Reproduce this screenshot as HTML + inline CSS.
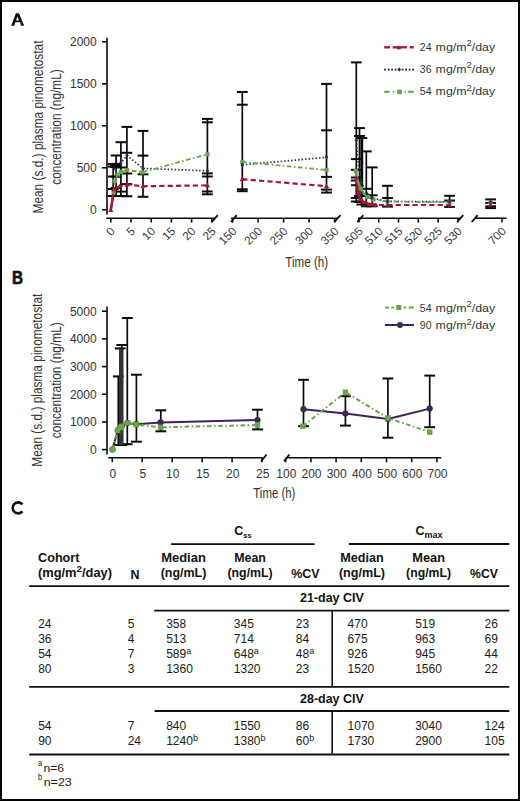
<!DOCTYPE html><html><head><meta charset="utf-8"><style>html,body{margin:0;padding:0;background:#fff;overflow:hidden}svg{display:block}text{font-family:"Liberation Sans",sans-serif}</style></head><body>
<svg width="520" height="801" viewBox="0 0 520 801">
<rect x="0" y="0" width="520" height="801" fill="#fff"/>
<path fill-rule="evenodd" fill="#111" d="M11.1,25.7 L15.9,13.25 L19.0,13.25 L24.2,25.7 L21.1,25.7 L20.1,22.2 L15.3,22.2 L14.2,25.7 Z M16.1,20.4 L18.9,20.4 L17.5,16.6 Z"/>
<text transform="translate(42.7,127) rotate(-90)" font-size="15.5" text-anchor="middle" fill="#333333" textLength="173" lengthAdjust="spacingAndGlyphs">Mean (s.d.) plasma pinometostat</text>
<text transform="translate(60.9,127) rotate(-90)" font-size="15.5" text-anchor="middle" fill="#333333" textLength="115.5" lengthAdjust="spacingAndGlyphs">concentration (ng/mL)</text>
<line x1="107" y1="37.8" x2="107" y2="214.5" stroke="#0a0a0a" stroke-width="1.6"/>
<line x1="102" y1="41.8" x2="107" y2="41.8" stroke="#0a0a0a" stroke-width="1.6"/>
<text x="96.7" y="46.099999999999994" font-size="12" text-anchor="end" font-weight="normal" fill="#333333" >2000</text>
<line x1="102" y1="83.8" x2="107" y2="83.8" stroke="#0a0a0a" stroke-width="1.6"/>
<text x="96.7" y="88.1" font-size="12" text-anchor="end" font-weight="normal" fill="#333333" >1500</text>
<line x1="102" y1="125.8" x2="107" y2="125.8" stroke="#0a0a0a" stroke-width="1.6"/>
<text x="96.7" y="130.1" font-size="12" text-anchor="end" font-weight="normal" fill="#333333" >1000</text>
<line x1="102" y1="167.8" x2="107" y2="167.8" stroke="#0a0a0a" stroke-width="1.6"/>
<text x="96.7" y="172.10000000000002" font-size="12" text-anchor="end" font-weight="normal" fill="#333333" >500</text>
<line x1="102" y1="209.8" x2="107" y2="209.8" stroke="#0a0a0a" stroke-width="1.6"/>
<text x="96.7" y="214.10000000000002" font-size="12" text-anchor="end" font-weight="normal" fill="#333333" >0</text>
<line x1="106.2" y1="218.2" x2="214.5" y2="218.2" stroke="#0a0a0a" stroke-width="1.6"/>
<line x1="110.8" y1="218.2" x2="110.8" y2="222.6" stroke="#0a0a0a" stroke-width="1.6"/>
<text transform="translate(115.6,231.8) rotate(-45)" font-size="11.7" text-anchor="end" fill="#333333">0</text>
<line x1="131.0" y1="218.2" x2="131.0" y2="222.6" stroke="#0a0a0a" stroke-width="1.6"/>
<text transform="translate(135.8,231.8) rotate(-45)" font-size="11.7" text-anchor="end" fill="#333333">5</text>
<line x1="151.2" y1="218.2" x2="151.2" y2="222.6" stroke="#0a0a0a" stroke-width="1.6"/>
<text transform="translate(156.0,231.8) rotate(-45)" font-size="11.7" text-anchor="end" fill="#333333">10</text>
<line x1="171.4" y1="218.2" x2="171.4" y2="222.6" stroke="#0a0a0a" stroke-width="1.6"/>
<text transform="translate(176.2,231.8) rotate(-45)" font-size="11.7" text-anchor="end" fill="#333333">15</text>
<line x1="191.6" y1="218.2" x2="191.6" y2="222.6" stroke="#0a0a0a" stroke-width="1.6"/>
<text transform="translate(196.4,231.8) rotate(-45)" font-size="11.7" text-anchor="end" fill="#333333">20</text>
<line x1="211.8" y1="218.2" x2="211.8" y2="222.6" stroke="#0a0a0a" stroke-width="1.6"/>
<text transform="translate(216.6,231.8) rotate(-45)" font-size="11.7" text-anchor="end" fill="#333333">25</text>
<line x1="211.8" y1="222" x2="217.8" y2="215.2" stroke="#0a0a0a" stroke-width="1.8"/>
<line x1="231" y1="218.2" x2="338" y2="218.2" stroke="#0a0a0a" stroke-width="1.6"/>
<line x1="232.6" y1="218.2" x2="232.6" y2="222.6" stroke="#0a0a0a" stroke-width="1.6"/>
<text transform="translate(237.4,231.8) rotate(-45)" font-size="11.7" text-anchor="end" fill="#333333">150</text>
<line x1="258.1" y1="218.2" x2="258.1" y2="222.6" stroke="#0a0a0a" stroke-width="1.6"/>
<text transform="translate(262.9,231.8) rotate(-45)" font-size="11.7" text-anchor="end" fill="#333333">200</text>
<line x1="283.6" y1="218.2" x2="283.6" y2="222.6" stroke="#0a0a0a" stroke-width="1.6"/>
<text transform="translate(288.4,231.8) rotate(-45)" font-size="11.7" text-anchor="end" fill="#333333">250</text>
<line x1="309.1" y1="218.2" x2="309.1" y2="222.6" stroke="#0a0a0a" stroke-width="1.6"/>
<text transform="translate(313.9,231.8) rotate(-45)" font-size="11.7" text-anchor="end" fill="#333333">300</text>
<line x1="334.6" y1="218.2" x2="334.6" y2="222.6" stroke="#0a0a0a" stroke-width="1.6"/>
<text transform="translate(339.4,231.8) rotate(-45)" font-size="11.7" text-anchor="end" fill="#333333">350</text>
<line x1="230.8" y1="222" x2="236.8" y2="215.2" stroke="#0a0a0a" stroke-width="1.8"/>
<line x1="334.4" y1="222" x2="340.4" y2="215.2" stroke="#0a0a0a" stroke-width="1.8"/>
<line x1="358" y1="218.2" x2="460" y2="218.2" stroke="#0a0a0a" stroke-width="1.6"/>
<line x1="358.9" y1="218.2" x2="358.9" y2="222.6" stroke="#0a0a0a" stroke-width="1.6"/>
<text transform="translate(363.7,231.8) rotate(-45)" font-size="11.7" text-anchor="end" fill="#333333">505</text>
<line x1="378.7" y1="218.2" x2="378.7" y2="222.6" stroke="#0a0a0a" stroke-width="1.6"/>
<text transform="translate(383.5,231.8) rotate(-45)" font-size="11.7" text-anchor="end" fill="#333333">510</text>
<line x1="398.5" y1="218.2" x2="398.5" y2="222.6" stroke="#0a0a0a" stroke-width="1.6"/>
<text transform="translate(403.3,231.8) rotate(-45)" font-size="11.7" text-anchor="end" fill="#333333">515</text>
<line x1="418.3" y1="218.2" x2="418.3" y2="222.6" stroke="#0a0a0a" stroke-width="1.6"/>
<text transform="translate(423.1,231.8) rotate(-45)" font-size="11.7" text-anchor="end" fill="#333333">520</text>
<line x1="438.1" y1="218.2" x2="438.1" y2="222.6" stroke="#0a0a0a" stroke-width="1.6"/>
<text transform="translate(442.9,231.8) rotate(-45)" font-size="11.7" text-anchor="end" fill="#333333">525</text>
<line x1="457.9" y1="218.2" x2="457.9" y2="222.6" stroke="#0a0a0a" stroke-width="1.6"/>
<text transform="translate(462.7,231.8) rotate(-45)" font-size="11.7" text-anchor="end" fill="#333333">530</text>
<line x1="357.3" y1="222" x2="363.3" y2="215.2" stroke="#0a0a0a" stroke-width="1.8"/>
<line x1="457.2" y1="222" x2="463.2" y2="215.2" stroke="#0a0a0a" stroke-width="1.8"/>
<line x1="475" y1="218.2" x2="506.5" y2="218.2" stroke="#0a0a0a" stroke-width="1.6"/>
<line x1="502.0" y1="218.2" x2="502.0" y2="222.6" stroke="#0a0a0a" stroke-width="1.6"/>
<text transform="translate(506.8,231.8) rotate(-45)" font-size="11.7" text-anchor="end" fill="#333333">700</text>
<line x1="471.7" y1="222" x2="477.7" y2="215.2" stroke="#0a0a0a" stroke-width="1.8"/>
<text x="285.3" y="266.9" font-size="14.5" text-anchor="start" font-weight="normal" fill="#333333" textLength="42.8" lengthAdjust="spacingAndGlyphs" >Time (h)</text>
<rect x="384.2" y="46.15" width="5.80" height="2.3" fill="#a3183a"/>
<rect x="392.7" y="46.15" width="14.20" height="2.3" fill="#a3183a"/>
<rect x="409.6" y="46.15" width="4.20" height="2.3" fill="#a3183a"/>
<path d="M398.9,45.3L401.2,49.3L396.6,49.3Z" fill="#a3183a"/>
<text x="419.8" y="50.7" font-size="11.4" fill="#333333" textLength="11.7" lengthAdjust="spacingAndGlyphs">24</text>
<text x="435.6" y="50.7" font-size="11.4" fill="#333333" textLength="59.6" lengthAdjust="spacingAndGlyphs">mg/m<tspan font-size="8.6" dy="-4.6">2</tspan><tspan dy="4.6">/day</tspan></text>
<rect x="384.2" y="68.65" width="1.80" height="1.9" fill="#22305e"/>
<rect x="387.7" y="68.65" width="1.80" height="1.9" fill="#22305e"/>
<rect x="391.2" y="68.65" width="1.80" height="1.9" fill="#22305e"/>
<rect x="394.7" y="68.65" width="1.80" height="1.9" fill="#22305e"/>
<rect x="398.2" y="68.65" width="1.80" height="1.9" fill="#22305e"/>
<rect x="401.7" y="68.65" width="1.80" height="1.9" fill="#22305e"/>
<rect x="405.2" y="68.65" width="1.80" height="1.9" fill="#22305e"/>
<rect x="408.7" y="68.65" width="1.80" height="1.9" fill="#22305e"/>
<rect x="412.2" y="68.65" width="1.80" height="1.9" fill="#22305e"/>
<path d="M399.2,67.2L401.0,69.5L399.2,71.8L397.4,69.5Z" fill="#22305e"/>
<text x="419.8" y="72.8" font-size="11.4" fill="#333333" textLength="11.7" lengthAdjust="spacingAndGlyphs">36</text>
<text x="435.6" y="72.8" font-size="11.4" fill="#333333" textLength="59.6" lengthAdjust="spacingAndGlyphs">mg/m<tspan font-size="8.6" dy="-4.6">2</tspan><tspan dy="4.6">/day</tspan></text>
<rect x="384.2" y="90.75" width="5.40" height="2.1" fill="#68a545"/>
<rect x="393" y="90.75" width="1.30" height="2.1" fill="#68a545"/>
<rect x="404.5" y="90.75" width="1.30" height="2.1" fill="#68a545"/>
<rect x="408.2" y="90.75" width="5.60" height="2.1" fill="#68a545"/>
<rect x="397.3" y="89.6" width="4.6" height="4.6" fill="#68a545"/>
<text x="419.8" y="95.1" font-size="11.4" fill="#333333" textLength="11.7" lengthAdjust="spacingAndGlyphs">54</text>
<text x="435.6" y="95.1" font-size="11.4" fill="#333333" textLength="59.6" lengthAdjust="spacingAndGlyphs">mg/m<tspan font-size="8.6" dy="-4.6">2</tspan><tspan dy="4.6">/day</tspan></text>
<line x1="113.2" y1="163.9" x2="113.2" y2="196.0" stroke="#0a0a0a" stroke-width="1.7"/>
<line x1="107.8" y1="163.9" x2="118.6" y2="163.9" stroke="#0a0a0a" stroke-width="2.0"/>
<line x1="107.8" y1="166.6" x2="118.6" y2="166.6" stroke="#0a0a0a" stroke-width="2.0"/>
<line x1="107.8" y1="176.5" x2="118.6" y2="176.5" stroke="#0a0a0a" stroke-width="2.0"/>
<line x1="107.8" y1="189.0" x2="118.6" y2="189.0" stroke="#0a0a0a" stroke-width="2.0"/>
<line x1="107.8" y1="196.0" x2="118.6" y2="196.0" stroke="#0a0a0a" stroke-width="2.0"/>
<line x1="115.3" y1="164.2" x2="115.3" y2="166.9" stroke="#0a0a0a" stroke-width="1.7"/>
<line x1="109.9" y1="164.2" x2="120.7" y2="164.2" stroke="#0a0a0a" stroke-width="2.0"/>
<line x1="109.9" y1="166.9" x2="120.7" y2="166.9" stroke="#0a0a0a" stroke-width="2.0"/>
<line x1="116.1" y1="155.5" x2="116.1" y2="196.0" stroke="#0a0a0a" stroke-width="1.7"/>
<line x1="110.7" y1="155.5" x2="121.5" y2="155.5" stroke="#0a0a0a" stroke-width="2.0"/>
<line x1="110.7" y1="165.0" x2="121.5" y2="165.0" stroke="#0a0a0a" stroke-width="2.0"/>
<line x1="110.7" y1="176.7" x2="121.5" y2="176.7" stroke="#0a0a0a" stroke-width="2.0"/>
<line x1="110.7" y1="188.0" x2="121.5" y2="188.0" stroke="#0a0a0a" stroke-width="2.0"/>
<line x1="110.7" y1="196.0" x2="121.5" y2="196.0" stroke="#0a0a0a" stroke-width="2.0"/>
<line x1="120.9" y1="142.2" x2="120.9" y2="196.0" stroke="#0a0a0a" stroke-width="1.7"/>
<line x1="115.5" y1="142.2" x2="126.3" y2="142.2" stroke="#0a0a0a" stroke-width="2.0"/>
<line x1="115.5" y1="167.5" x2="126.3" y2="167.5" stroke="#0a0a0a" stroke-width="2.0"/>
<line x1="115.5" y1="191.6" x2="126.3" y2="191.6" stroke="#0a0a0a" stroke-width="2.0"/>
<line x1="115.5" y1="196.0" x2="126.3" y2="196.0" stroke="#0a0a0a" stroke-width="2.0"/>
<line x1="126.9" y1="126.9" x2="126.9" y2="196.3" stroke="#0a0a0a" stroke-width="1.7"/>
<line x1="121.5" y1="126.9" x2="132.3" y2="126.9" stroke="#0a0a0a" stroke-width="2.0"/>
<line x1="121.5" y1="152.8" x2="132.3" y2="152.8" stroke="#0a0a0a" stroke-width="2.0"/>
<line x1="121.5" y1="173.5" x2="132.3" y2="173.5" stroke="#0a0a0a" stroke-width="2.0"/>
<line x1="121.5" y1="184.1" x2="132.3" y2="184.1" stroke="#0a0a0a" stroke-width="2.0"/>
<line x1="121.5" y1="196.3" x2="132.3" y2="196.3" stroke="#0a0a0a" stroke-width="2.0"/>
<line x1="143.0" y1="130.9" x2="143.0" y2="196.8" stroke="#0a0a0a" stroke-width="1.7"/>
<line x1="137.6" y1="130.9" x2="148.4" y2="130.9" stroke="#0a0a0a" stroke-width="2.0"/>
<line x1="137.6" y1="155.6" x2="148.4" y2="155.6" stroke="#0a0a0a" stroke-width="2.0"/>
<line x1="137.6" y1="174.3" x2="148.4" y2="174.3" stroke="#0a0a0a" stroke-width="2.0"/>
<line x1="137.6" y1="196.8" x2="148.4" y2="196.8" stroke="#0a0a0a" stroke-width="2.0"/>
<line x1="207.4" y1="118.9" x2="207.4" y2="194.3" stroke="#0a0a0a" stroke-width="1.7"/>
<line x1="202.0" y1="118.9" x2="212.8" y2="118.9" stroke="#0a0a0a" stroke-width="2.0"/>
<line x1="202.0" y1="122.3" x2="212.8" y2="122.3" stroke="#0a0a0a" stroke-width="2.0"/>
<line x1="202.0" y1="173.4" x2="212.8" y2="173.4" stroke="#0a0a0a" stroke-width="2.0"/>
<line x1="202.0" y1="176.5" x2="212.8" y2="176.5" stroke="#0a0a0a" stroke-width="2.0"/>
<line x1="202.0" y1="191.5" x2="212.8" y2="191.5" stroke="#0a0a0a" stroke-width="2.0"/>
<line x1="202.0" y1="194.3" x2="212.8" y2="194.3" stroke="#0a0a0a" stroke-width="2.0"/>
<line x1="242.3" y1="92.0" x2="242.3" y2="191.2" stroke="#0a0a0a" stroke-width="1.7"/>
<line x1="236.9" y1="92.0" x2="247.7" y2="92.0" stroke="#0a0a0a" stroke-width="2.0"/>
<line x1="236.9" y1="104.7" x2="247.7" y2="104.7" stroke="#0a0a0a" stroke-width="2.0"/>
<line x1="236.9" y1="189.3" x2="247.7" y2="189.3" stroke="#0a0a0a" stroke-width="2.0"/>
<line x1="236.9" y1="191.2" x2="247.7" y2="191.2" stroke="#0a0a0a" stroke-width="2.0"/>
<line x1="326.5" y1="83.9" x2="326.5" y2="192.6" stroke="#0a0a0a" stroke-width="1.7"/>
<line x1="321.1" y1="83.9" x2="331.9" y2="83.9" stroke="#0a0a0a" stroke-width="2.0"/>
<line x1="321.1" y1="130.3" x2="331.9" y2="130.3" stroke="#0a0a0a" stroke-width="2.0"/>
<line x1="321.1" y1="176.9" x2="331.9" y2="176.9" stroke="#0a0a0a" stroke-width="2.0"/>
<line x1="321.1" y1="189.6" x2="331.9" y2="189.6" stroke="#0a0a0a" stroke-width="2.0"/>
<line x1="321.1" y1="192.6" x2="331.9" y2="192.6" stroke="#0a0a0a" stroke-width="2.0"/>
<line x1="356.3" y1="62.4" x2="356.3" y2="201.5" stroke="#0a0a0a" stroke-width="1.7"/>
<line x1="350.9" y1="62.4" x2="361.7" y2="62.4" stroke="#0a0a0a" stroke-width="2.0"/>
<line x1="350.9" y1="159.1" x2="361.7" y2="159.1" stroke="#0a0a0a" stroke-width="2.0"/>
<line x1="350.9" y1="169.8" x2="361.7" y2="169.8" stroke="#0a0a0a" stroke-width="2.0"/>
<line x1="350.9" y1="177.5" x2="361.7" y2="177.5" stroke="#0a0a0a" stroke-width="2.0"/>
<line x1="350.9" y1="180.5" x2="361.7" y2="180.5" stroke="#0a0a0a" stroke-width="2.0"/>
<line x1="350.9" y1="185.2" x2="361.7" y2="185.2" stroke="#0a0a0a" stroke-width="2.0"/>
<line x1="350.9" y1="198.0" x2="361.7" y2="198.0" stroke="#0a0a0a" stroke-width="2.0"/>
<line x1="350.9" y1="201.5" x2="361.7" y2="201.5" stroke="#0a0a0a" stroke-width="2.0"/>
<line x1="359.5" y1="128.1" x2="359.5" y2="202.0" stroke="#0a0a0a" stroke-width="1.7"/>
<line x1="354.1" y1="128.1" x2="364.9" y2="128.1" stroke="#0a0a0a" stroke-width="2.0"/>
<line x1="354.1" y1="136.0" x2="364.9" y2="136.0" stroke="#0a0a0a" stroke-width="2.0"/>
<line x1="354.1" y1="196.0" x2="364.9" y2="196.0" stroke="#0a0a0a" stroke-width="2.0"/>
<line x1="354.1" y1="202.0" x2="364.9" y2="202.0" stroke="#0a0a0a" stroke-width="2.0"/>
<line x1="361.8" y1="138.0" x2="361.8" y2="204.5" stroke="#0a0a0a" stroke-width="1.7"/>
<line x1="356.4" y1="138.0" x2="367.2" y2="138.0" stroke="#0a0a0a" stroke-width="2.0"/>
<line x1="356.4" y1="196.0" x2="367.2" y2="196.0" stroke="#0a0a0a" stroke-width="2.0"/>
<line x1="356.4" y1="204.5" x2="367.2" y2="204.5" stroke="#0a0a0a" stroke-width="2.0"/>
<line x1="366.3" y1="151.4" x2="366.3" y2="206.3" stroke="#0a0a0a" stroke-width="1.7"/>
<line x1="360.9" y1="151.4" x2="371.7" y2="151.4" stroke="#0a0a0a" stroke-width="2.0"/>
<line x1="360.9" y1="188.8" x2="371.7" y2="188.8" stroke="#0a0a0a" stroke-width="2.0"/>
<line x1="360.9" y1="206.3" x2="371.7" y2="206.3" stroke="#0a0a0a" stroke-width="2.0"/>
<line x1="372.2" y1="167.4" x2="372.2" y2="206.3" stroke="#0a0a0a" stroke-width="1.7"/>
<line x1="366.8" y1="167.4" x2="377.6" y2="167.4" stroke="#0a0a0a" stroke-width="2.0"/>
<line x1="366.8" y1="195.3" x2="377.6" y2="195.3" stroke="#0a0a0a" stroke-width="2.0"/>
<line x1="366.8" y1="206.3" x2="377.6" y2="206.3" stroke="#0a0a0a" stroke-width="2.0"/>
<line x1="387.5" y1="185.8" x2="387.5" y2="206.6" stroke="#0a0a0a" stroke-width="1.7"/>
<line x1="382.1" y1="185.8" x2="392.9" y2="185.8" stroke="#0a0a0a" stroke-width="2.0"/>
<line x1="382.1" y1="198.0" x2="392.9" y2="198.0" stroke="#0a0a0a" stroke-width="2.0"/>
<line x1="382.1" y1="206.6" x2="392.9" y2="206.6" stroke="#0a0a0a" stroke-width="2.0"/>
<line x1="449.6" y1="195.8" x2="449.6" y2="206.9" stroke="#0a0a0a" stroke-width="1.7"/>
<line x1="444.2" y1="195.8" x2="455.0" y2="195.8" stroke="#0a0a0a" stroke-width="2.0"/>
<line x1="444.2" y1="200.5" x2="455.0" y2="200.5" stroke="#0a0a0a" stroke-width="2.0"/>
<line x1="444.2" y1="206.9" x2="455.0" y2="206.9" stroke="#0a0a0a" stroke-width="2.0"/>
<line x1="490.6" y1="199.4" x2="490.6" y2="208.1" stroke="#0a0a0a" stroke-width="1.7"/>
<line x1="485.2" y1="199.4" x2="496.0" y2="199.4" stroke="#0a0a0a" stroke-width="2.0"/>
<line x1="485.2" y1="202.9" x2="496.0" y2="202.9" stroke="#0a0a0a" stroke-width="2.0"/>
<line x1="485.2" y1="206.3" x2="496.0" y2="206.3" stroke="#0a0a0a" stroke-width="2.0"/>
<line x1="485.2" y1="208.1" x2="496.0" y2="208.1" stroke="#0a0a0a" stroke-width="2.0"/>
<line x1="361.8" y1="138" x2="361.8" y2="196" stroke="#0a0a0a" stroke-width="2.8"/>
<polyline points="114.5,168.0 117.2,165.6 120.9,162.9 126.9,155.5 143.0,168.4 207.4,170.8" fill="none" stroke="#22305e" stroke-width="1.7" stroke-dasharray="1.5 2.0" stroke-linecap="butt" stroke-linejoin="round"/>
<polyline points="242.3,164.9 326.5,157.3" fill="none" stroke="#22305e" stroke-width="1.7" stroke-dasharray="1.5 2.0" stroke-linecap="butt" stroke-linejoin="round"/>
<polyline points="356.3,140.2 358.0,162.0 361.5,182.0 364.5,189.0 367.0,193.6 372.0,198.0 387.5,201.4 449.6,201.8" fill="none" stroke="#22305e" stroke-width="1.7" stroke-dasharray="1.5 2.0" stroke-linecap="butt" stroke-linejoin="round"/>
<polyline points="490.6,202.0" fill="none" stroke="#22305e" stroke-width="1.7" stroke-dasharray="1.5 2.0" stroke-linecap="butt" stroke-linejoin="round"/>
<polyline points="113.5,192.0 115.0,181.0 117.7,174.6 120.9,171.9 126.9,170.0 142.3,172.3 207.4,154.3" fill="none" stroke="#68a545" stroke-width="1.8" stroke-dasharray="4.5 2.6 1.5 2.6" stroke-linecap="butt" stroke-linejoin="round"/>
<polyline points="242.3,161.9 326.5,170.0" fill="none" stroke="#68a545" stroke-width="1.8" stroke-dasharray="4.5 2.6 1.5 2.6" stroke-linecap="butt" stroke-linejoin="round"/>
<polyline points="355.7,171.0 357.5,180.0 360.7,188.5 363.5,193.0 367.5,197.0 373.4,199.5 387.5,201.5 449.6,202.3" fill="none" stroke="#68a545" stroke-width="1.8" stroke-dasharray="4.5 2.6 1.5 2.6" stroke-linecap="butt" stroke-linejoin="round"/>
<polyline points="490.6,202.0" fill="none" stroke="#68a545" stroke-width="1.8" stroke-dasharray="4.5 2.6 1.5 2.6" stroke-linecap="butt" stroke-linejoin="round"/>
<polyline points="110.8,210.0 114.0,189.4 119.8,186.3 126.9,184.5 143.0,186.2 207.4,185.4" fill="none" stroke="#a3183a" stroke-width="2.2" stroke-dasharray="5.2 3.2" stroke-linecap="butt" stroke-linejoin="round"/>
<polyline points="242.3,179.2 326.5,186.2" fill="none" stroke="#a3183a" stroke-width="2.2" stroke-dasharray="5.2 3.2" stroke-linecap="butt" stroke-linejoin="round"/>
<polyline points="356.5,178.0 357.5,186.0 358.3,193.0 360.0,199.5 363.3,202.0 369.2,204.2 376.0,205.0 387.5,205.0 449.6,205.0" fill="none" stroke="#a3183a" stroke-width="2.2" stroke-dasharray="5.2 3.2" stroke-linecap="butt" stroke-linejoin="round"/>
<polyline points="490.6,204.6" fill="none" stroke="#a3183a" stroke-width="2.2" stroke-dasharray="5.2 3.2" stroke-linecap="butt" stroke-linejoin="round"/>
<polyline points="356.5,178.0 357.5,186.0 358.3,193.0 360.0,199.5 363.3,202.0 369.2,204.2 376.0,205.0" fill="none" stroke="#a3183a" stroke-width="2.8" stroke-linecap="butt" stroke-linejoin="round"/>
<polyline points="355.7,171.0 357.5,180.0 360.7,188.5 363.5,193.0 367.5,197.0 373.4,199.5" fill="none" stroke="#68a545" stroke-width="2.2" stroke-linecap="butt" stroke-linejoin="round"/>
<polyline points="110.8,210.0 114.0,189.4 119.8,186.3" fill="none" stroke="#a3183a" stroke-width="2.4" stroke-linecap="butt" stroke-linejoin="round"/>
<rect x="111.4" y="189.9" width="4.2" height="4.2" fill="#68a545"/>
<rect x="112.9" y="178.9" width="4.2" height="4.2" fill="#68a545"/>
<rect x="115.6" y="172.5" width="4.2" height="4.2" fill="#68a545"/>
<rect x="118.8" y="169.8" width="4.2" height="4.2" fill="#68a545"/>
<rect x="124.8" y="167.9" width="4.2" height="4.2" fill="#68a545"/>
<rect x="140.2" y="170.2" width="4.2" height="4.2" fill="#68a545"/>
<rect x="205.3" y="152.2" width="4.2" height="4.2" fill="#68a545"/>
<rect x="240.2" y="159.8" width="4.2" height="4.2" fill="#68a545"/>
<rect x="324.4" y="167.9" width="4.2" height="4.2" fill="#68a545"/>
<rect x="353.7" y="169.0" width="4.0" height="4.0" fill="#68a545"/>
<rect x="358.7" y="186.5" width="4.0" height="4.0" fill="#68a545"/>
<rect x="365.5" y="195.0" width="4.0" height="4.0" fill="#68a545"/>
<rect x="371.4" y="197.5" width="4.0" height="4.0" fill="#68a545"/>
<rect x="385.5" y="199.5" width="4.0" height="4.0" fill="#68a545"/>
<rect x="447.6" y="200.3" width="4.0" height="4.0" fill="#68a545"/>
<rect x="488.5" y="199.9" width="4.2" height="4.2" fill="#68a545"/>
<path d="M114.5,165.7L116.3,168.0L114.5,170.3L112.7,168.0Z" fill="#22305e"/>
<path d="M117.2,163.3L119.0,165.6L117.2,167.9L115.4,165.6Z" fill="#22305e"/>
<path d="M120.9,160.6L122.7,162.9L120.9,165.2L119.1,162.9Z" fill="#22305e"/>
<path d="M126.9,153.2L128.7,155.5L126.9,157.8L125.1,155.5Z" fill="#22305e"/>
<path d="M143.0,166.1L144.8,168.4L143.0,170.7L141.2,168.4Z" fill="#22305e"/>
<path d="M207.4,168.5L209.2,170.8L207.4,173.1L205.6,170.8Z" fill="#22305e"/>
<path d="M242.3,162.6L244.1,164.9L242.3,167.2L240.5,164.9Z" fill="#22305e"/>
<path d="M326.5,155.0L328.3,157.3L326.5,159.6L324.7,157.3Z" fill="#22305e"/>
<path d="M356.3,138.0L358.1,140.2L356.3,142.4L354.5,140.2Z" fill="#22305e"/>
<path d="M361.5,179.8L363.3,182.0L361.5,184.2L359.7,182.0Z" fill="#22305e"/>
<path d="M367.0,191.4L368.8,193.6L367.0,195.8L365.2,193.6Z" fill="#22305e"/>
<path d="M372.0,195.8L373.8,198.0L372.0,200.2L370.2,198.0Z" fill="#22305e"/>
<path d="M387.5,199.2L389.3,201.4L387.5,203.6L385.7,201.4Z" fill="#22305e"/>
<path d="M449.6,199.6L451.4,201.8L449.6,204.0L447.8,201.8Z" fill="#22305e"/>
<path d="M490.6,199.7L492.4,202.0L490.6,204.3L488.8,202.0Z" fill="#22305e"/>
<path d="M110.8,207.4L113.4,211.9L108.2,211.9Z" fill="#a3183a"/>
<path d="M114.0,186.8L116.6,191.3L111.4,191.3Z" fill="#a3183a"/>
<path d="M119.8,183.7L122.4,188.2L117.2,188.2Z" fill="#a3183a"/>
<path d="M126.9,181.9L129.5,186.4L124.3,186.4Z" fill="#a3183a"/>
<path d="M143.0,183.6L145.6,188.1L140.4,188.1Z" fill="#a3183a"/>
<path d="M207.4,182.8L210.0,187.3L204.8,187.3Z" fill="#a3183a"/>
<path d="M242.3,176.6L244.9,181.1L239.7,181.1Z" fill="#a3183a"/>
<path d="M326.5,183.6L329.1,188.1L323.9,188.1Z" fill="#a3183a"/>
<path d="M356.5,175.6L358.9,179.8L354.1,179.8Z" fill="#a3183a"/>
<path d="M358.3,190.6L360.7,194.8L355.9,194.8Z" fill="#a3183a"/>
<path d="M363.3,199.6L365.7,203.8L360.9,203.8Z" fill="#a3183a"/>
<path d="M369.2,201.8L371.6,206.0L366.8,206.0Z" fill="#a3183a"/>
<path d="M376.0,202.6L378.4,206.8L373.6,206.8Z" fill="#a3183a"/>
<path d="M387.5,202.6L389.9,206.8L385.1,206.8Z" fill="#a3183a"/>
<path d="M449.6,202.6L452.0,206.8L447.2,206.8Z" fill="#a3183a"/>
<path d="M490.6,202.0L493.2,206.5L488.0,206.5Z" fill="#a3183a"/>
<rect x="110.3" y="163.2" width="9.6" height="4.6" fill="#0a0a0a"/>
<text x="11.9" y="284.4" font-size="17.5" text-anchor="start" font-weight="bold" fill="#111" textLength="11" lengthAdjust="spacingAndGlyphs" stroke="#111" stroke-width="0.7">B</text>
<text transform="translate(42.4,380.2) rotate(-90)" font-size="15.5" text-anchor="middle" fill="#333333" textLength="173" lengthAdjust="spacingAndGlyphs">Mean (s.d.) plasma pinometostat</text>
<text transform="translate(60.6,380.2) rotate(-90)" font-size="15.5" text-anchor="middle" fill="#333333" textLength="116" lengthAdjust="spacingAndGlyphs">concentration (ng/mL)</text>
<line x1="107" y1="306.4" x2="107" y2="454.4" stroke="#0a0a0a" stroke-width="1.6"/>
<line x1="102" y1="311.2" x2="107" y2="311.2" stroke="#0a0a0a" stroke-width="1.6"/>
<text x="96.6" y="315.5" font-size="12" text-anchor="end" font-weight="normal" fill="#333333" >5000</text>
<line x1="102" y1="338.9" x2="107" y2="338.9" stroke="#0a0a0a" stroke-width="1.6"/>
<text x="96.6" y="343.2" font-size="12" text-anchor="end" font-weight="normal" fill="#333333" >4000</text>
<line x1="102" y1="366.6" x2="107" y2="366.6" stroke="#0a0a0a" stroke-width="1.6"/>
<text x="96.6" y="370.9" font-size="12" text-anchor="end" font-weight="normal" fill="#333333" >3000</text>
<line x1="102" y1="394.2" x2="107" y2="394.2" stroke="#0a0a0a" stroke-width="1.6"/>
<text x="96.6" y="398.5" font-size="12" text-anchor="end" font-weight="normal" fill="#333333" >2000</text>
<line x1="102" y1="421.9" x2="107" y2="421.9" stroke="#0a0a0a" stroke-width="1.6"/>
<text x="96.6" y="426.2" font-size="12" text-anchor="end" font-weight="normal" fill="#333333" >1000</text>
<line x1="102" y1="449.6" x2="107" y2="449.6" stroke="#0a0a0a" stroke-width="1.6"/>
<text x="96.6" y="453.9" font-size="12" text-anchor="end" font-weight="normal" fill="#333333" >0</text>
<line x1="108.3" y1="457.8" x2="262.5" y2="457.8" stroke="#0a0a0a" stroke-width="1.6"/>
<line x1="112.3" y1="457.8" x2="112.3" y2="462.2" stroke="#0a0a0a" stroke-width="1.6"/>
<text x="112.9" y="477.8" font-size="12" text-anchor="middle" font-weight="normal" fill="#333333" >0</text>
<line x1="142.2" y1="457.8" x2="142.2" y2="462.2" stroke="#0a0a0a" stroke-width="1.6"/>
<text x="142.8" y="477.8" font-size="12" text-anchor="middle" font-weight="normal" fill="#333333" >5</text>
<line x1="172.2" y1="457.8" x2="172.2" y2="462.2" stroke="#0a0a0a" stroke-width="1.6"/>
<text x="172.8" y="477.8" font-size="12" text-anchor="middle" font-weight="normal" fill="#333333" >10</text>
<line x1="202.2" y1="457.8" x2="202.2" y2="462.2" stroke="#0a0a0a" stroke-width="1.6"/>
<text x="202.8" y="477.8" font-size="12" text-anchor="middle" font-weight="normal" fill="#333333" >15</text>
<line x1="232.1" y1="457.8" x2="232.1" y2="462.2" stroke="#0a0a0a" stroke-width="1.6"/>
<text x="232.7" y="477.8" font-size="12" text-anchor="middle" font-weight="normal" fill="#333333" >20</text>
<line x1="262.1" y1="457.8" x2="262.1" y2="462.2" stroke="#0a0a0a" stroke-width="1.6"/>
<text x="262.7" y="477.8" font-size="12" text-anchor="middle" font-weight="normal" fill="#333333" >25</text>
<line x1="261.2" y1="461.3" x2="266.6" y2="454.5" stroke="#0a0a0a" stroke-width="1.8"/>
<line x1="286" y1="457.8" x2="441.2" y2="457.8" stroke="#0a0a0a" stroke-width="1.6"/>
<line x1="285.7" y1="457.8" x2="285.7" y2="462.2" stroke="#0a0a0a" stroke-width="1.6"/>
<text x="286.3" y="477.8" font-size="12" text-anchor="middle" font-weight="normal" fill="#333333" >100</text>
<line x1="310.9" y1="457.8" x2="310.9" y2="462.2" stroke="#0a0a0a" stroke-width="1.6"/>
<text x="311.5" y="477.8" font-size="12" text-anchor="middle" font-weight="normal" fill="#333333" >200</text>
<line x1="336.1" y1="457.8" x2="336.1" y2="462.2" stroke="#0a0a0a" stroke-width="1.6"/>
<text x="336.7" y="477.8" font-size="12" text-anchor="middle" font-weight="normal" fill="#333333" >300</text>
<line x1="361.3" y1="457.8" x2="361.3" y2="462.2" stroke="#0a0a0a" stroke-width="1.6"/>
<text x="361.9" y="477.8" font-size="12" text-anchor="middle" font-weight="normal" fill="#333333" >400</text>
<line x1="386.5" y1="457.8" x2="386.5" y2="462.2" stroke="#0a0a0a" stroke-width="1.6"/>
<text x="387.1" y="477.8" font-size="12" text-anchor="middle" font-weight="normal" fill="#333333" >500</text>
<line x1="411.7" y1="457.8" x2="411.7" y2="462.2" stroke="#0a0a0a" stroke-width="1.6"/>
<text x="412.3" y="477.8" font-size="12" text-anchor="middle" font-weight="normal" fill="#333333" >600</text>
<line x1="436.9" y1="457.8" x2="436.9" y2="462.2" stroke="#0a0a0a" stroke-width="1.6"/>
<text x="437.5" y="477.8" font-size="12" text-anchor="middle" font-weight="normal" fill="#333333" >700</text>
<line x1="284.0" y1="461.3" x2="289.4" y2="454.5" stroke="#0a0a0a" stroke-width="1.8"/>
<text x="253.3" y="498.3" font-size="14.5" text-anchor="start" font-weight="normal" fill="#333333" textLength="42.1" lengthAdjust="spacingAndGlyphs" >Time (h)</text>
<rect x="385" y="306.50" width="4.00" height="2.0" fill="#68a545"/>
<rect x="391.3" y="306.50" width="2.50" height="2.0" fill="#68a545"/>
<rect x="403.8" y="306.50" width="2.50" height="2.0" fill="#68a545"/>
<rect x="408.8" y="306.50" width="5.00" height="2.0" fill="#68a545"/>
<rect x="396.3" y="305.0" width="5.0" height="5.0" fill="#68a545"/>
<text x="419.8" y="311.7" font-size="11.8" fill="#333333" textLength="11.7" lengthAdjust="spacingAndGlyphs">54</text>
<text x="435.6" y="311.7" font-size="11.8" fill="#333333" textLength="59.6" lengthAdjust="spacingAndGlyphs">mg/m<tspan font-size="8.9" dy="-4.6">2</tspan><tspan dy="4.6">/day</tspan></text>
<line x1="385" y1="325" x2="414" y2="325" stroke="#41225a" stroke-width="2"/>
<circle cx="400.0" cy="325.0" r="3" fill="#41225a"/>
<text x="419.8" y="329.2" font-size="11.8" fill="#333333" textLength="11.7" lengthAdjust="spacingAndGlyphs">90</text>
<text x="435.6" y="329.2" font-size="11.8" fill="#333333" textLength="59.6" lengthAdjust="spacingAndGlyphs">mg/m<tspan font-size="8.9" dy="-4.6">2</tspan><tspan dy="4.6">/day</tspan></text>
<line x1="118.3" y1="376.4" x2="118.3" y2="445.0" stroke="#0a0a0a" stroke-width="1.7"/>
<line x1="112.9" y1="376.4" x2="123.7" y2="376.4" stroke="#0a0a0a" stroke-width="2.0"/>
<line x1="112.9" y1="445.0" x2="123.7" y2="445.0" stroke="#0a0a0a" stroke-width="2.0"/>
<line x1="120.2" y1="348.4" x2="120.2" y2="445.0" stroke="#0a0a0a" stroke-width="1.7"/>
<line x1="114.8" y1="348.4" x2="125.6" y2="348.4" stroke="#0a0a0a" stroke-width="2.0"/>
<line x1="114.8" y1="445.0" x2="125.6" y2="445.0" stroke="#0a0a0a" stroke-width="2.0"/>
<line x1="121.8" y1="345.0" x2="121.8" y2="445.0" stroke="#0a0a0a" stroke-width="1.7"/>
<line x1="116.4" y1="345.0" x2="127.2" y2="345.0" stroke="#0a0a0a" stroke-width="2.0"/>
<line x1="116.4" y1="445.0" x2="127.2" y2="445.0" stroke="#0a0a0a" stroke-width="2.0"/>
<line x1="127.3" y1="318.0" x2="127.3" y2="444.2" stroke="#0a0a0a" stroke-width="1.7"/>
<line x1="121.9" y1="318.0" x2="132.7" y2="318.0" stroke="#0a0a0a" stroke-width="2.0"/>
<line x1="121.9" y1="444.2" x2="132.7" y2="444.2" stroke="#0a0a0a" stroke-width="2.0"/>
<line x1="136.4" y1="374.7" x2="136.4" y2="441.7" stroke="#0a0a0a" stroke-width="1.7"/>
<line x1="131.0" y1="374.7" x2="141.8" y2="374.7" stroke="#0a0a0a" stroke-width="2.0"/>
<line x1="131.0" y1="441.7" x2="141.8" y2="441.7" stroke="#0a0a0a" stroke-width="2.0"/>
<line x1="160.8" y1="410.3" x2="160.8" y2="431.3" stroke="#0a0a0a" stroke-width="1.7"/>
<line x1="155.4" y1="410.3" x2="166.2" y2="410.3" stroke="#0a0a0a" stroke-width="2.0"/>
<line x1="155.4" y1="431.3" x2="166.2" y2="431.3" stroke="#0a0a0a" stroke-width="2.0"/>
<line x1="257.5" y1="409.7" x2="257.5" y2="429.4" stroke="#0a0a0a" stroke-width="1.7"/>
<line x1="252.1" y1="409.7" x2="262.9" y2="409.7" stroke="#0a0a0a" stroke-width="2.0"/>
<line x1="252.1" y1="429.4" x2="262.9" y2="429.4" stroke="#0a0a0a" stroke-width="2.0"/>
<line x1="303.5" y1="379.8" x2="303.5" y2="426.2" stroke="#0a0a0a" stroke-width="1.7"/>
<line x1="298.1" y1="379.8" x2="308.9" y2="379.8" stroke="#0a0a0a" stroke-width="2.0"/>
<line x1="298.1" y1="426.2" x2="308.9" y2="426.2" stroke="#0a0a0a" stroke-width="2.0"/>
<line x1="345.4" y1="396.2" x2="345.4" y2="425.6" stroke="#0a0a0a" stroke-width="1.7"/>
<line x1="340.0" y1="396.2" x2="350.8" y2="396.2" stroke="#0a0a0a" stroke-width="2.0"/>
<line x1="340.0" y1="425.6" x2="350.8" y2="425.6" stroke="#0a0a0a" stroke-width="2.0"/>
<line x1="387.9" y1="378.5" x2="387.9" y2="437.7" stroke="#0a0a0a" stroke-width="1.7"/>
<line x1="382.5" y1="378.5" x2="393.3" y2="378.5" stroke="#0a0a0a" stroke-width="2.0"/>
<line x1="382.5" y1="437.7" x2="393.3" y2="437.7" stroke="#0a0a0a" stroke-width="2.0"/>
<line x1="429.7" y1="375.6" x2="429.7" y2="427.2" stroke="#0a0a0a" stroke-width="1.7"/>
<line x1="424.3" y1="375.6" x2="435.1" y2="375.6" stroke="#0a0a0a" stroke-width="2.0"/>
<line x1="424.3" y1="427.2" x2="435.1" y2="427.2" stroke="#0a0a0a" stroke-width="2.0"/>
<rect x="119" y="349" width="4.5" height="96" fill="#333"/>
<polyline points="112.5,449.4 117.7,430.4 120.0,427.5 121.7,426.3 127.5,422.9 136.2,424.2 160.6,422.4 257.5,420.0" fill="none" stroke="#41225a" stroke-width="2" stroke-linecap="butt" stroke-linejoin="round"/>
<polyline points="303.5,409.2 345.4,413.5 387.9,419.0 429.7,408.6" fill="none" stroke="#41225a" stroke-width="2" stroke-linecap="butt" stroke-linejoin="round"/>
<circle cx="112.5" cy="449.4" r="3.1" fill="#41225a"/>
<circle cx="117.7" cy="430.4" r="3.1" fill="#41225a"/>
<circle cx="120.0" cy="427.5" r="3.1" fill="#41225a"/>
<circle cx="121.7" cy="426.3" r="3.1" fill="#41225a"/>
<circle cx="127.5" cy="422.9" r="3.1" fill="#41225a"/>
<circle cx="136.2" cy="424.2" r="3.1" fill="#41225a"/>
<circle cx="160.6" cy="422.4" r="3.1" fill="#41225a"/>
<circle cx="257.5" cy="420.0" r="3.1" fill="#41225a"/>
<circle cx="303.5" cy="409.2" r="3.1" fill="#41225a"/>
<circle cx="345.4" cy="413.5" r="3.1" fill="#41225a"/>
<circle cx="387.9" cy="419.0" r="3.1" fill="#41225a"/>
<circle cx="429.7" cy="408.6" r="3.1" fill="#41225a"/>
<polyline points="112.5,449.4 117.7,430.4 120.0,427.5 121.7,426.3 127.5,422.9 136.2,424.6 160.6,427.3 257.5,425.0" fill="none" stroke="#68a545" stroke-width="2" stroke-dasharray="4.5 2.6 1.5 2.6" stroke-linecap="butt" stroke-linejoin="round"/>
<polyline points="302.9,426.2 345.4,392.2 387.9,418.0 429.7,432.1" fill="none" stroke="#68a545" stroke-width="2" stroke-dasharray="4.5 2.6 1.5 2.6" stroke-linecap="butt" stroke-linejoin="round"/>
<rect x="109.8" y="446.7" width="5.4" height="5.4" fill="#68a545"/>
<rect x="115.0" y="427.7" width="5.4" height="5.4" fill="#68a545"/>
<rect x="117.3" y="424.8" width="5.4" height="5.4" fill="#68a545"/>
<rect x="119.0" y="423.6" width="5.4" height="5.4" fill="#68a545"/>
<rect x="124.8" y="420.2" width="5.4" height="5.4" fill="#68a545"/>
<rect x="133.5" y="421.9" width="5.4" height="5.4" fill="#68a545"/>
<rect x="157.9" y="424.6" width="5.4" height="5.4" fill="#68a545"/>
<rect x="254.8" y="422.3" width="5.4" height="5.4" fill="#68a545"/>
<rect x="300.2" y="423.5" width="5.4" height="5.4" fill="#68a545"/>
<rect x="342.7" y="389.5" width="5.4" height="5.4" fill="#68a545"/>
<rect x="385.2" y="415.3" width="5.4" height="5.4" fill="#68a545"/>
<rect x="427.0" y="429.4" width="5.4" height="5.4" fill="#68a545"/>
<path d="M22.41,504.36 A5.5,5.5 0 1 0 22.41,511.44" fill="none" stroke="#111" stroke-width="2.6"/>
<text x="234.3" y="535" font-size="12.5" font-weight="bold" fill="#111">C<tspan font-size="7.5" dy="2.5">ss</tspan></text>
<text x="415.4" y="535" font-size="12.5" font-weight="bold" fill="#111">C<tspan font-size="9" dy="2.5">max</tspan></text>
<line x1="171" y1="544.2" x2="314.6" y2="544.2" stroke="#111" stroke-width="1.8"/>
<line x1="348.8" y1="544" x2="509.3" y2="544" stroke="#111" stroke-width="1.8"/>
<text x="38" y="562.3" font-size="12.5" text-anchor="start" font-weight="bold" fill="#111" textLength="41.5" lengthAdjust="spacingAndGlyphs" >Cohort</text>
<text x="38" y="576.8" font-size="12.5" font-weight="bold" fill="#111" textLength="74" lengthAdjust="spacingAndGlyphs">(mg/m<tspan font-size="9.5" dy="-5">2</tspan><tspan dy="5">/day)</tspan></text>
<text x="130.6" y="578.5" font-size="13" text-anchor="start" font-weight="bold" fill="#111" textLength="9" lengthAdjust="spacingAndGlyphs" >N</text>
<text x="183.5" y="562.3" font-size="12.5" text-anchor="middle" font-weight="bold" fill="#111" textLength="44.6" lengthAdjust="spacingAndGlyphs" >Median</text>
<text x="183.5" y="576.8" font-size="12.5" text-anchor="middle" font-weight="bold" fill="#111" textLength="45.7" lengthAdjust="spacingAndGlyphs" >(ng/mL)</text>
<text x="250.1" y="562.3" font-size="12.5" text-anchor="middle" font-weight="bold" fill="#111" textLength="31.7" lengthAdjust="spacingAndGlyphs" >Mean</text>
<text x="250.1" y="576.8" font-size="12.5" text-anchor="middle" font-weight="bold" fill="#111" textLength="45.3" lengthAdjust="spacingAndGlyphs" >(ng/mL)</text>
<text x="362" y="562.3" font-size="12.5" text-anchor="middle" font-weight="bold" fill="#111" textLength="43.5" lengthAdjust="spacingAndGlyphs" >Median</text>
<text x="362" y="576.8" font-size="12.5" text-anchor="middle" font-weight="bold" fill="#111" textLength="46.1" lengthAdjust="spacingAndGlyphs" >(ng/mL)</text>
<text x="428.6" y="562.3" font-size="12.5" text-anchor="middle" font-weight="bold" fill="#111" textLength="32.7" lengthAdjust="spacingAndGlyphs" >Mean</text>
<text x="428.6" y="576.8" font-size="12.5" text-anchor="middle" font-weight="bold" fill="#111" textLength="45" lengthAdjust="spacingAndGlyphs" >(ng/mL)</text>
<text x="291.2" y="578.2" font-size="12.5" text-anchor="start" font-weight="bold" fill="#111" textLength="28.4" lengthAdjust="spacingAndGlyphs" >%CV</text>
<text x="470.1" y="578.3" font-size="12.5" text-anchor="start" font-weight="bold" fill="#111" textLength="27.9" lengthAdjust="spacingAndGlyphs" >%CV</text>
<line x1="29.2" y1="586.2" x2="509.3" y2="586.2" stroke="#111" stroke-width="1.8"/>
<text x="300" y="601.9" font-size="12.5" text-anchor="start" font-weight="bold" fill="#111" textLength="63.8" lengthAdjust="spacingAndGlyphs" >21-day CIV</text>
<line x1="154.2" y1="610.6" x2="509.3" y2="610.6" stroke="#111" stroke-width="1.8"/>
<line x1="332.2" y1="611" x2="332.2" y2="686" stroke="#111" stroke-width="1.6"/>
<text x="38.2" y="628" font-size="12" text-anchor="start" font-weight="normal" fill="#1a1a1a" >24</text>
<text x="127.7" y="628" font-size="12" text-anchor="start" font-weight="normal" fill="#1a1a1a" >5</text>
<text x="166.2" y="628" font-size="12" text-anchor="start" font-weight="normal" fill="#1a1a1a" >358</text>
<text x="233.8" y="628" font-size="12" text-anchor="start" font-weight="normal" fill="#1a1a1a" >345</text>
<text x="295.8" y="628" font-size="12" text-anchor="start" font-weight="normal" fill="#1a1a1a" >23</text>
<text x="347.6" y="628" font-size="12" text-anchor="start" font-weight="normal" fill="#1a1a1a" >470</text>
<text x="415.2" y="628" font-size="12" text-anchor="start" font-weight="normal" fill="#1a1a1a" >519</text>
<text x="484.6" y="628" font-size="12" text-anchor="start" font-weight="normal" fill="#1a1a1a" >26</text>
<text x="38.2" y="643" font-size="12" text-anchor="start" font-weight="normal" fill="#1a1a1a" >36</text>
<text x="127.7" y="643" font-size="12" text-anchor="start" font-weight="normal" fill="#1a1a1a" >4</text>
<text x="166.2" y="643" font-size="12" text-anchor="start" font-weight="normal" fill="#1a1a1a" >513</text>
<text x="233.8" y="643" font-size="12" text-anchor="start" font-weight="normal" fill="#1a1a1a" >714</text>
<text x="295.8" y="643" font-size="12" text-anchor="start" font-weight="normal" fill="#1a1a1a" >84</text>
<text x="347.6" y="643" font-size="12" text-anchor="start" font-weight="normal" fill="#1a1a1a" >675</text>
<text x="415.2" y="643" font-size="12" text-anchor="start" font-weight="normal" fill="#1a1a1a" >963</text>
<text x="484.6" y="643" font-size="12" text-anchor="start" font-weight="normal" fill="#1a1a1a" >69</text>
<text x="38.2" y="658" font-size="12" text-anchor="start" font-weight="normal" fill="#1a1a1a" >54</text>
<text x="127.7" y="658" font-size="12" text-anchor="start" font-weight="normal" fill="#1a1a1a" >7</text>
<text x="166.2" y="658" font-size="12" text-anchor="start" font-weight="normal" fill="#1a1a1a" >589<tspan font-size="9" dy="-4.5">a</tspan></text>
<text x="233.8" y="658" font-size="12" text-anchor="start" font-weight="normal" fill="#1a1a1a" >648<tspan font-size="9" dy="-4.5">a</tspan></text>
<text x="295.8" y="658" font-size="12" text-anchor="start" font-weight="normal" fill="#1a1a1a" >48<tspan font-size="9" dy="-4.5">a</tspan></text>
<text x="347.6" y="658" font-size="12" text-anchor="start" font-weight="normal" fill="#1a1a1a" >926</text>
<text x="415.2" y="658" font-size="12" text-anchor="start" font-weight="normal" fill="#1a1a1a" >945</text>
<text x="484.6" y="658" font-size="12" text-anchor="start" font-weight="normal" fill="#1a1a1a" >44</text>
<text x="38.2" y="673" font-size="12" text-anchor="start" font-weight="normal" fill="#1a1a1a" >80</text>
<text x="127.7" y="673" font-size="12" text-anchor="start" font-weight="normal" fill="#1a1a1a" >3</text>
<text x="166.2" y="673" font-size="12" text-anchor="start" font-weight="normal" fill="#1a1a1a" >1360</text>
<text x="233.8" y="673" font-size="12" text-anchor="start" font-weight="normal" fill="#1a1a1a" >1320</text>
<text x="295.8" y="673" font-size="12" text-anchor="start" font-weight="normal" fill="#1a1a1a" >23</text>
<text x="347.6" y="673" font-size="12" text-anchor="start" font-weight="normal" fill="#1a1a1a" >1520</text>
<text x="415.2" y="673" font-size="12" text-anchor="start" font-weight="normal" fill="#1a1a1a" >1560</text>
<text x="484.6" y="673" font-size="12" text-anchor="start" font-weight="normal" fill="#1a1a1a" >22</text>
<line x1="29.2" y1="686.9" x2="509.3" y2="686.9" stroke="#111" stroke-width="1.8"/>
<text x="300" y="703.1" font-size="12.5" text-anchor="start" font-weight="bold" fill="#111" textLength="63.8" lengthAdjust="spacingAndGlyphs" >28-day CIV</text>
<line x1="154.6" y1="711" x2="509.3" y2="711" stroke="#111" stroke-width="1.8"/>
<line x1="332.2" y1="711.5" x2="332.2" y2="753.5" stroke="#111" stroke-width="1.6"/>
<text x="38.2" y="730.3" font-size="12" text-anchor="start" font-weight="normal" fill="#1a1a1a" >54</text>
<text x="127.7" y="730.3" font-size="12" text-anchor="start" font-weight="normal" fill="#1a1a1a" >7</text>
<text x="166.2" y="730.3" font-size="12" text-anchor="start" font-weight="normal" fill="#1a1a1a" >840</text>
<text x="233.8" y="730.3" font-size="12" text-anchor="start" font-weight="normal" fill="#1a1a1a" >1550</text>
<text x="295.8" y="730.3" font-size="12" text-anchor="start" font-weight="normal" fill="#1a1a1a" >86</text>
<text x="347.6" y="730.3" font-size="12" text-anchor="start" font-weight="normal" fill="#1a1a1a" >1070</text>
<text x="415.2" y="730.3" font-size="12" text-anchor="start" font-weight="normal" fill="#1a1a1a" >3040</text>
<text x="484.6" y="730.3" font-size="12" text-anchor="start" font-weight="normal" fill="#1a1a1a" >124</text>
<text x="38.2" y="745.3" font-size="12" text-anchor="start" font-weight="normal" fill="#1a1a1a" >90</text>
<text x="127.7" y="745.3" font-size="12" text-anchor="start" font-weight="normal" fill="#1a1a1a" >24</text>
<text x="166.2" y="745.3" font-size="12" text-anchor="start" font-weight="normal" fill="#1a1a1a" >1240<tspan font-size="9" dy="-4.5">b</tspan></text>
<text x="233.8" y="745.3" font-size="12" text-anchor="start" font-weight="normal" fill="#1a1a1a" >1380<tspan font-size="9" dy="-4.5">b</tspan></text>
<text x="295.8" y="745.3" font-size="12" text-anchor="start" font-weight="normal" fill="#1a1a1a" >60<tspan font-size="9" dy="-4.5">b</tspan></text>
<text x="347.6" y="745.3" font-size="12" text-anchor="start" font-weight="normal" fill="#1a1a1a" >1730</text>
<text x="415.2" y="745.3" font-size="12" text-anchor="start" font-weight="normal" fill="#1a1a1a" >2900</text>
<text x="484.6" y="745.3" font-size="12" text-anchor="start" font-weight="normal" fill="#1a1a1a" >105</text>
<line x1="29.2" y1="754.5" x2="509.3" y2="754.5" stroke="#111" stroke-width="1.8"/>
<text x="38.1" y="766.3" font-size="8.4" text-anchor="start" font-weight="normal" fill="#111" textLength="4.1" lengthAdjust="spacingAndGlyphs" >a</text>
<text x="43.5" y="771.8" font-size="10" text-anchor="start" font-weight="normal" fill="#1a1a1a" textLength="20.6" lengthAdjust="spacingAndGlyphs" >n=6</text>
<text x="38.1" y="780.2" font-size="8.4" text-anchor="start" font-weight="normal" fill="#111" textLength="4.1" lengthAdjust="spacingAndGlyphs" >b</text>
<text x="43.7" y="786.3" font-size="10.4" text-anchor="start" font-weight="normal" fill="#1a1a1a" textLength="28.1" lengthAdjust="spacingAndGlyphs" >n=23</text>
<rect x="1" y="1" width="518" height="799" fill="none" stroke="#000" stroke-width="2"/>
</svg></body></html>
